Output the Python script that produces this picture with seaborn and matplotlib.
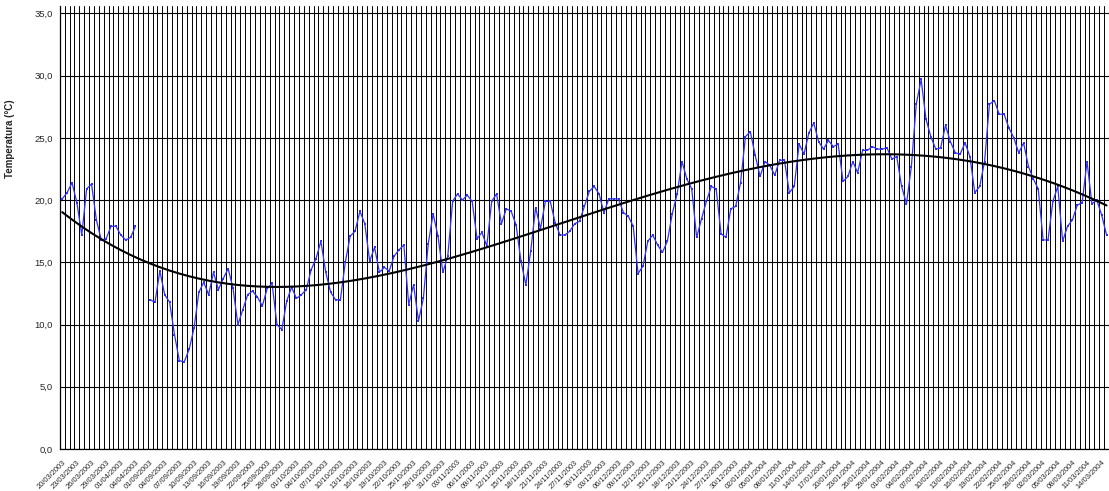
import numpy as np
import pandas as pd
import seaborn as sns
import matplotlib.pyplot as plt

sns.set_style("white")
plt.rcParams["font.family"] = ["Liberation Sans", "DejaVu Sans"]

# categories: two date runs, the series has a hole between them
dates = list(pd.date_range("2003-03-20", "2003-04-05")) + list(pd.date_range("2003-08-31", "2004-03-15"))
date_labels = [d.strftime("%d/%m/%Y") for d in dates]

temp_spring = [20.1, 20.6, 21.4, 19.8, 17.2, 20.9, 21.3, 18.4, 16.8, 16.9, 17.9, 17.9,
               17.2, 16.8, 17.0, 17.9]
temp_gap = [np.nan, np.nan]
temp_rest = [12.0, 11.8, 14.3, 12.4, 11.8, 9.2, 7.1, 7.0, 8.0, 9.7,
             12.6, 13.4, 12.4, 14.2, 12.8, 13.7, 14.5, 12.9, 10.0, 11.2,
             12.4, 12.7, 12.2, 11.5, 12.9, 13.3, 10.0, 9.6, 11.9, 13.0,
             12.1, 12.4, 12.8, 14.4, 15.3, 16.7, 14.2, 12.6, 12.0, 12.0,
             15.0, 17.1, 17.5, 19.1, 18.1, 15.1, 16.2, 14.2, 14.6, 14.3,
             15.5, 16.0, 16.4, 11.6, 13.2, 10.3, 12.1, 16.5, 18.9, 17.1,
             14.2, 15.5, 19.9, 20.5, 20.0, 20.4, 19.9, 16.9, 17.4, 16.3,
             19.9, 20.5, 18.1, 19.3, 19.1, 18.0, 15.1, 13.2, 15.9, 19.4,
             17.7, 19.9, 19.9, 18.2, 17.2, 17.2, 17.5, 18.1, 18.3, 19.5,
             20.7, 21.1, 20.5, 19.0, 20.1, 20.1, 20.1, 19.0, 18.7, 17.9,
             14.1, 14.7, 16.7, 17.2, 16.4, 15.8, 16.7, 18.9, 20.5, 23.1,
             21.7, 20.9, 17.0, 18.5, 19.9, 21.1, 20.9, 17.3, 17.0, 19.3,
             19.5, 21.4, 25.1, 25.5, 23.6, 21.9, 23.1, 22.8, 22.0, 23.2,
             23.2, 20.6, 21.1, 24.5, 23.7, 25.4, 26.2, 24.7, 24.1, 24.8,
             24.3, 24.5, 21.5, 21.9, 23.1, 22.2, 24.0, 24.0, 24.3, 24.1,
             24.1, 24.2, 23.3, 23.5, 21.1, 19.7, 22.7, 27.7, 29.7, 26.5,
             25.1, 24.1, 24.2, 26.0, 24.7, 23.8, 23.7, 24.6, 23.5, 20.6,
             21.1, 23.1, 27.7, 28.0, 26.9, 26.9, 25.8, 25.0, 23.8, 24.6,
             22.7, 21.7, 20.9, 16.8, 16.8, 19.9, 21.1, 16.7, 17.9, 18.4,
             19.6, 19.8, 23.1, 19.7, 20.0, 18.8, 17.2]

temps = temp_spring + temp_gap + temp_rest
df = pd.DataFrame({"idx": np.arange(len(dates)), "label": date_labels, "temp": temps})
df["seg"] = (df["idx"] >= len(temp_spring) + len(temp_gap)).astype(int)
valid = df.dropna()

# polynomial trend line (order 4) fitted on the measured days
xx = np.arange(len(dates))
coef = np.polyfit(valid["idx"], valid["temp"], 4)
trend = np.polyval(coef, xx)

fig = plt.figure(figsize=(11.09, 4.91), dpi=100)
ax = fig.add_axes([59.8 / 1109, 42 / 491, 1 - 59.8 / 1109, 443 / 491])

sns.lineplot(data=valid, x="idx", y="temp", units="seg", estimator=None,
             color="#3030ff", linewidth=0.9, marker="s", markersize=2.1,
             markeredgewidth=0, ax=ax, zorder=3)
sns.lineplot(x=xx, y=trend, color="black", linewidth=1.5, ax=ax, zorder=4)

ax.set_xlim(-0.5, 213.36)
ax.set_ylim(0, 35.6)

ax.set_xticks(np.arange(-0.5, len(dates), 1), minor=True)
ax.set_xticks(xx[::3])
ax.set_xticklabels(df["label"][::3], rotation=45, ha="right", va="top",
                   rotation_mode="anchor", fontsize=5.4)
ax.tick_params(axis="x", which="both", length=0, pad=7)

yt = np.arange(0, 36, 5)
ax.set_yticks(yt)
ax.set_yticklabels([f"{v:.1f}".replace(".", ",") for v in yt], fontsize=6.8)
ax.tick_params(axis="y", length=3, width=0.8, color="black", pad=2)

ax.grid(True, axis="x", which="minor", color="black", linewidth=0.7)
ax.grid(True, axis="y", which="major", color="black", linewidth=0.8)
ax.set_axisbelow(True)

for s in ["top", "right"]:
    ax.spines[s].set_visible(False)
for s in ["left", "bottom"]:
    ax.spines[s].set_color("black")
    ax.spines[s].set_linewidth(0.9)

ax.set_xlabel("")
ax.set_ylabel("Temperatura (°C)", fontsize=7, fontweight="bold")
ax.yaxis.set_label_coords(-0.043, 0.70)

fig.savefig("out.png", dpi=100)
